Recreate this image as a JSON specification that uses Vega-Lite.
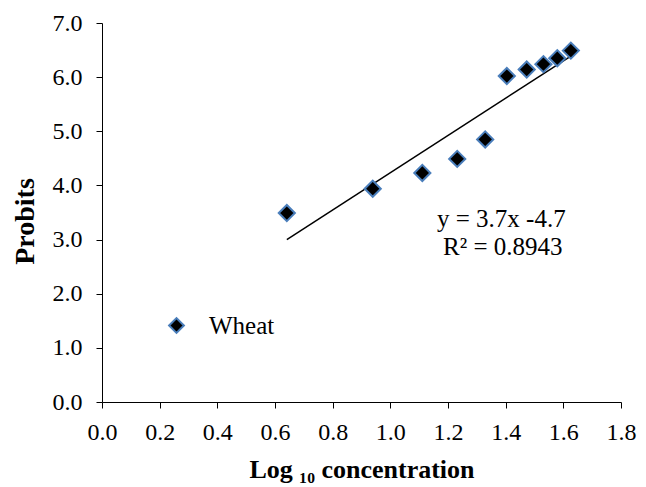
{
  "$schema": "https://vega.github.io/schema/vega-lite/v6.json",
  "width": 519,
  "height": 379,
  "autosize": "none",
  "padding": {"left": 102, "top": 23, "right": 25, "bottom": 85},
  "background": "white",
  "config": {
    "view": {"stroke": null},
    "font": "Liberation Serif",
    "axis": {
      "grid": false,
      "domainColor": "#000000",
      "tickColor": "#000000",
      "domainWidth": 1,
      "tickWidth": 1,
      "tickSize": 6,
      "labelFlush": false,
      "labelOverlap": false,
      "labelFont": "Liberation Serif",
      "labelFontSize": 24,
      "labelColor": "#000000",
      "titleFont": "Liberation Serif",
      "titleFontSize": 26,
      "titleFontWeight": "bold",
      "titleColor": "#000000"
    }
  },
  "datasets": {
    "points": [
      {"logc": 0.641, "probit": 3.49, "series": "Wheat"},
      {"logc": 0.939, "probit": 3.94, "series": "Wheat"},
      {"logc": 1.111, "probit": 4.23, "series": "Wheat"},
      {"logc": 1.232, "probit": 4.49, "series": "Wheat"},
      {"logc": 1.329, "probit": 4.85, "series": "Wheat"},
      {"logc": 1.404, "probit": 6.02, "series": "Wheat"},
      {"logc": 1.473, "probit": 6.14, "series": "Wheat"},
      {"logc": 1.531, "probit": 6.24, "series": "Wheat"},
      {"logc": 1.579, "probit": 6.35, "series": "Wheat"},
      {"logc": 1.626, "probit": 6.49, "series": "Wheat"}
    ],
    "trend": [
      {"logc": 0.641, "probit": 3.0},
      {"logc": 1.626, "probit": 6.39}
    ],
    "notes": [
      {"logc": 1.385, "probit": 3.38, "label": "y = 3.7x -4.7"},
      {"logc": 1.39, "probit": 2.87, "label": "R² = 0.8943"}
    ]
  },
  "layer": [
    {
      "data": {"name": "trend"},
      "mark": {"type": "line", "color": "#000000", "strokeWidth": 1.5},
      "encoding": {
        "x": {"field": "logc", "type": "quantitative"},
        "y": {"field": "probit", "type": "quantitative"}
      }
    },
    {
      "data": {"name": "points"},
      "mark": {"type": "point", "shape": "diamond", "filled": true, "size": 260, "opacity": 1, "stroke": "#4a7ebb", "strokeWidth": 2},
      "encoding": {
        "x": {
          "field": "logc", "type": "quantitative",
          "scale": {"domain": [0, 1.8], "nice": false, "zero": false},
          "axis": {"values": [0, 0.2, 0.4, 0.6, 0.8, 1.0, 1.2, 1.4, 1.6, 1.8], "format": ".1f", "labelPadding": 12, "title": "Log ₁₀ concentration", "titlePadding": 12}
        },
        "y": {
          "field": "probit", "type": "quantitative",
          "scale": {"domain": [0, 7], "nice": false},
          "axis": {"values": [0, 1, 2, 3, 4, 5, 6, 7], "format": ".1f", "labelPadding": 14, "title": "Probits", "titleFontSize": 28, "titlePadding": 13, "titleY": 198}
        },
        "fill": {
          "field": "series", "type": "nominal",
          "scale": {"range": ["#000000"]},
          "legend": {
            "title": null,
            "orient": "none",
            "legendX": 62,
            "legendY": 290,
            "symbolType": "diamond",
            "symbolSize": 220,
            "symbolStrokeColor": "#4a7ebb",
            "symbolStrokeWidth": 2,
            "symbolFillColor": "#000000",
            "labelFont": "Liberation Serif",
            "labelFontSize": 25,
            "labelColor": "#000000",
            "labelOffset": 20
          }
        }
      }
    },
    {
      "data": {"name": "notes"},
      "mark": {"type": "text", "font": "Liberation Serif", "fontSize": 25, "color": "#000000", "align": "center", "baseline": "middle"},
      "encoding": {
        "x": {"field": "logc", "type": "quantitative"},
        "y": {"field": "probit", "type": "quantitative"},
        "text": {"field": "label"}
      }
    }
  ]
}
